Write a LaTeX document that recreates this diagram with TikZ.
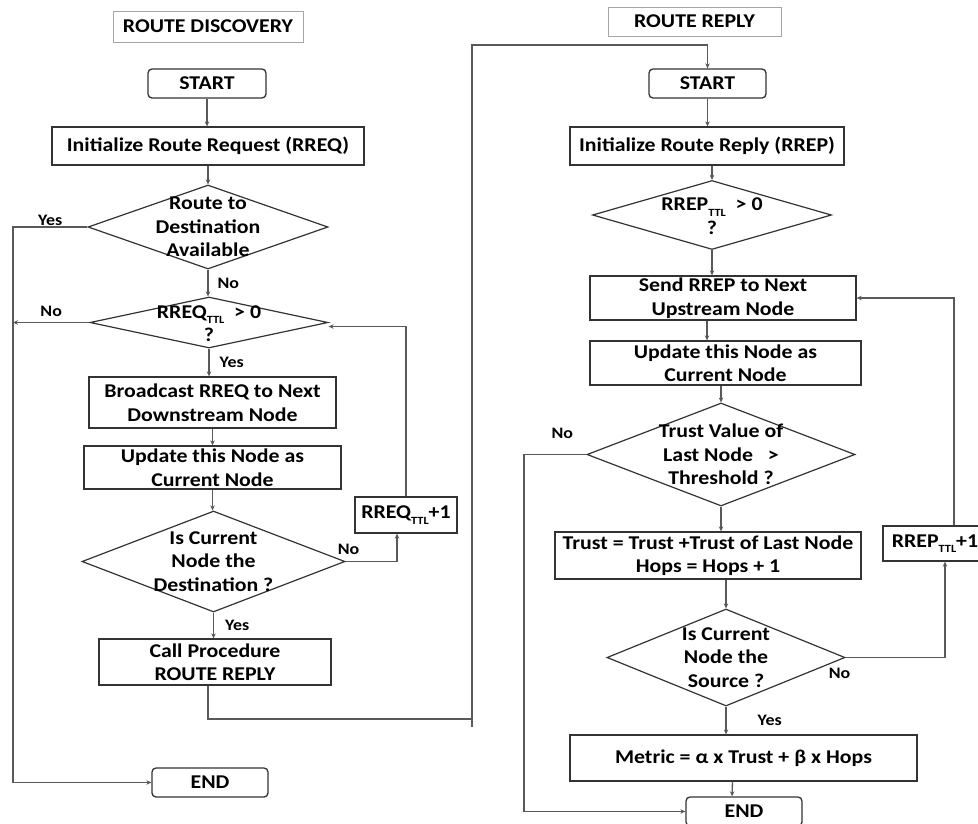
\documentclass[tikz,border=0pt]{standalone}
\usepackage{fontspec}
\setmainfont[FakeStretch=1.12]{Carlito}
\usetikzlibrary{shapes.geometric,arrows.meta,calc}
\newcommand\ttlsub{\raisebox{-0.6ex}{\fontsize{11}{11}\selectfont TTL}}
\begin{document}
\begin{tikzpicture}[x=1pt,y=-1pt,
  font=\fontsize{19.5}{23.5}\selectfont\bfseries,
  box/.style={draw=black!80, line width=1.3pt, inner sep=0pt, align=center},
  rbox/.style={box, rounded corners=4pt},
  dia/.style={draw=black!80, line width=1.2pt, diamond, inner sep=0pt},
  ttl/.style={draw=black!35, line width=1pt, inner sep=0pt},
  txt/.style={align=center, inner sep=0pt},
  lbl/.style={font=\fontsize{16}{18}\selectfont\bfseries, inner sep=0pt},
  ln/.style={draw=black!65, line width=1.3pt},
  arr/.style={ln, -{Stealth[length=5pt,width=4.5pt]}},
]
\fill[white] (0,0) rectangle (978,823);
\useasboundingbox (0,0) rectangle (978,823);

% ---------- left: route discovery ----------
\node[ttl, minimum width=190pt, minimum height=31pt] (title1) at (208,26.5) {ROUTE DISCOVERY};
\node[rbox, minimum width=118pt, minimum height=29pt] (start1) at (207,83.5) {START};
\node[box, minimum width=312pt, minimum height=38pt] (init1) at (208,146) {Initialize Route Request (RREQ)};
\node[dia, minimum width=240pt, minimum height=84pt] (d1) at (208,227) {};
\node[txt] at (d1) {Route to\\Destination\\Available};
\node[dia, minimum width=238pt, minimum height=51pt] (d2) at (209,322.5) {};
\node[txt] at ($(d2)+(0,1)$) {RREQ\ttlsub\ \ > 0\\?};
\node[box, minimum width=247pt, minimum height=51pt] (broad1) at (212.5,402.5) {Broadcast RREQ to Next\\Downstream Node};
\node[box, minimum width=257pt, minimum height=43pt] (upd1) at (212.5,467.5) {Update this Node as\\Current Node};
\node[dia, minimum width=263pt, minimum height=101pt] (d3) at (213.5,561.5) {};
\node[txt] at (d3) {Is Current\\Node the\\Destination ?};
\node[box, minimum width=102pt, minimum height=36pt] (inc1) at (406,515) {RREQ\ttlsub+1};
\node[box, minimum width=232pt, minimum height=46pt] (call1) at (215,662) {Call Procedure\\ROUTE REPLY};
\node[rbox, minimum width=116pt, minimum height=29pt] (end1) at (210,782.5) {END};

% ---------- right: route reply ----------
\node[ttl, minimum width=173pt, minimum height=29pt] (title2) at (694.5,21.5) {ROUTE REPLY};
\node[rbox, minimum width=117pt, minimum height=29pt] (start2) at (707.5,83.5) {START};
\node[box, minimum width=274pt, minimum height=38pt] (init2) at (707,146) {Initialize Route Reply (RREP)};
\node[dia, minimum width=239pt, minimum height=69pt] (d4) at (712,215) {};
\node[txt] at ($(d4)+(0,1)$) {RREP\ttlsub\ \ > 0\\?};
\node[box, minimum width=266pt, minimum height=44pt] (send2) at (723,298) {Send RREP to Next\\Upstream Node};
\node[box, minimum width=271pt, minimum height=44pt] (upd2) at (725.5,363) {Update this Node as\\Current Node};
\node[dia, minimum width=268pt, minimum height=103pt] (d5) at (721,454.5) {};
\node[txt] at (d5) {Trust Value of\\Last Node~~ >\\Threshold ?};
\node[box, minimum width=306pt, minimum height=47pt] (trust2) at (708,555.5) {Trust = Trust +Trust of Last Node\\Hops = Hops + 1};
\node[box, minimum width=104pt, minimum height=35pt] (inc2) at (935,543.5) {RREP\ttlsub+1};
\node[dia, minimum width=238pt, minimum height=97pt] (d6) at (726,657.5) {};
\node[txt] at (d6) {Is Current\\Node the\\Source ?};
\node[box, minimum width=347pt, minimum height=46pt] (metric2) at (743.5,758) {Metric = α x Trust + β x Hops};
\node[rbox, minimum width=116pt, minimum height=29pt] (end2) at (744,811.5) {END};

% ---------- left connectors ----------
\coordinate (vl) at (13,0);
\coordinate (jb) at (472,719);
\coordinate (jr) at (472,45);

\draw[arr] (start1.south) -- (start1.south |- init1.north);
\draw[arr] (init1.south -| d1.north) -- (d1.north);
\draw[arr] (d1.south) -- (d1.south |- d2.north) node[lbl, midway, right=9pt] {No};
\draw[arr] (d1.west) -- node[lbl, above=1pt] {Yes} (d1.west -| vl) |- (end1.west);
\draw[arr] (d2.west) -- node[lbl, above=5pt] {No} (d2.west -| vl);
\draw[arr] (d2.south) -- (d2.south |- broad1.north) node[lbl, midway, right=10pt] {Yes};
\draw[arr] (broad1.south) -- (upd1.north);
\draw[arr] (upd1.south) -- (upd1.south |- d3.north);
\draw[arr] (d3.east) -| ($(inc1.south)+(-9,0)$);
\node[lbl] at ($(d3.east)+(3,-12)$) {No};
\draw[arr] (inc1.north) |- ($(d2.east)+(0,4)$);
\draw[arr] (d3.south) -- (d3.south |- call1.north) node[lbl, midway, right=11pt] {Yes};
\draw[arr] (call1.south -| d1.south) |- (jb) -- (jr) -| (start2.north);
\draw[ln] (jb) -- ++(0,8);

% ---------- right connectors ----------
\coordinate (vl2) at (524,0);

\draw[arr] (start2.south) -- (start2.south |- init2.north);
\draw[arr] (init2.south -| d4.north) -- (d4.north);
\draw[arr] (d4.south) -- (d4.south |- send2.north);
\draw[arr] (send2.south -| init2.south) -- (init2.south |- upd2.north);
\draw[arr] (upd2.south -| d5.north) -- (d5.north);
\draw[arr] (d5.south) -- (d5.south |- trust2.north);
\draw[arr] (d5.west) -- (d5.west -| vl2) |- (end2.west);
\node[lbl] at ($(d5.west)+(-24,-21)$) {No};
\draw[arr] (trust2.south -| d6.north) -- (d6.north);
\draw[arr] (d6.south) -- (d6.south |- metric2.north) node[lbl, midway, right=31pt] {Yes};
\draw[arr] (d6.east) -| ($(inc2.south)+(10,0)$);
\node[lbl] at ($(d6.east)+(-6,16)$) {No};
\draw[arr] ($(inc2.north)+(19,0)$) |- (send2.east);
\draw[arr] ($(metric2.south)+(-11,0)$) -- ($(end2.north)+(-12,0)$);
\end{tikzpicture}
\end{document}
